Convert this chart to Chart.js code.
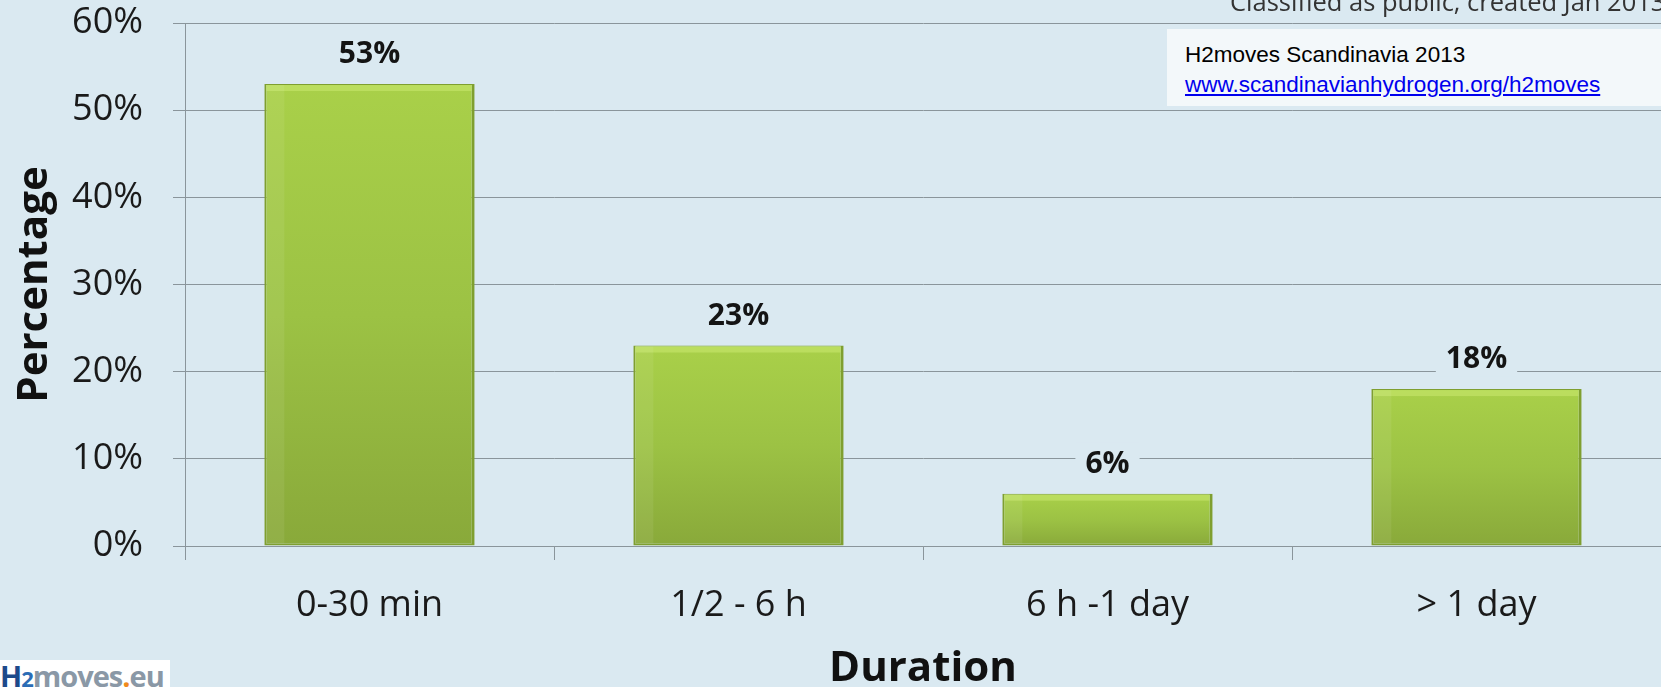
<!DOCTYPE html>
<html><head><meta charset="utf-8">
<script src="https://cdn.jsdelivr.net/npm/chart.js@4.4.1/dist/chart.umd.min.js"></script>
<style>
html,body{margin:0;padding:0;background:#dae9f1;overflow:hidden}
#wrap{position:relative;width:1661px;height:687px;background:#dae9f1}
canvas{position:absolute;left:0;top:0}
#classified{position:absolute;left:1230px;top:-12px;font:25.5px "Open Sans",sans-serif;line-height:26px;color:#333;white-space:nowrap;letter-spacing:0}
#note{position:absolute;left:1167px;top:29px;width:494px;height:77px;background:#f3f8fa;box-sizing:border-box;padding:11px 0 0 18px;font:22.5px "Liberation Sans",Arial,sans-serif;line-height:30px;color:#000}
#note a{color:#0000ee;text-decoration:underline}
#logo{position:absolute;left:0;top:660px;width:170px;height:27px;background:#fff;overflow:hidden;font:bold 29px "Open Sans",sans-serif;line-height:31px;color:#8a98a6;letter-spacing:-1px;white-space:nowrap}
#logo .h{color:#1d4a8a}
#logo .two{color:#2b6cb5;font-size:22px}
#logo .dot{color:#f08a1c}
</style></head>
<body><div id="wrap">
<canvas id="c" width="1661" height="687"></canvas>
<div id="classified">Classified as public, created Jan 2013</div>
<div id="note"><div>H2moves Scandinavia 2013</div><a>www.scandinavianhydrogen.org/h2moves</a></div>
<div id="logo"><span class="h">H</span><span class="two">2</span>moves<span class="dot">.</span>eu</div>
</div>
<script>
const categories = ['0-30 min', '1/2 - 6 h', '6 h -1 day', '> 1 day'];
const percentages = [53, 23, 6, 18];
const yTicks = [0, 10, 20, 30, 40, 50, 60];

const BG = '#dae9f1';
const GRID = '#8a959b';

const labelPlugin = {
  id: 'valueLabels',
  afterDatasetsDraw(chart) {
    const ctx = chart.ctx;
    const meta = chart.getDatasetMeta(0);
    ctx.save();
    ctx.font = 'bold 30px "Open Sans", sans-serif';
    ctx.textAlign = 'center';
    ctx.textBaseline = 'alphabetic';
    meta.data.forEach((el, i) => {
      const txt = percentages[i] + '%';
      const w = ctx.measureText(txt).width;
      const by = el.y - 21;
      ctx.fillStyle = BG;
      ctx.fillRect(el.x - w / 2 - 10, by - 30, w + 20, 38);
      ctx.fillStyle = '#141414';
      ctx.fillText(txt, el.x, by);
      const l = el.x - el.width / 2;
      ctx.fillStyle = 'rgba(205,236,115,0.5)';
      ctx.fillRect(l + 2, el.y + 1, el.width - 5, 6);
      ctx.fillStyle = 'rgba(255,255,255,0.07)';
      ctx.fillRect(l + 2, el.y + 1, 18, el.base - el.y - 3);
    });
    ctx.restore();
  }
};

new Chart(document.getElementById('c'), {
  type: 'bar',
  data: {
    labels: categories,
    datasets: [{
      data: percentages,
      backgroundColor(ctx) {
        const chart = ctx.chart;
        const ys = chart.scales && chart.scales.y;
        if (!ys || ctx.dataIndex === undefined) return '#9ec444';
        const top = ys.getPixelForValue(percentages[ctx.dataIndex]);
        const base = ys.getPixelForValue(0);
        if (!Number.isFinite(top) || !Number.isFinite(base) || top === base) return '#9ec444';
        const g = chart.ctx.createLinearGradient(0, top, 0, base);
        g.addColorStop(0, '#a9d049');
        g.addColorStop(0.5, '#9cc244');
        g.addColorStop(1, '#89a93a');
        return g;
      },
      borderColor: '#7f9f30',
      borderWidth: {left: 2, right: 3, top: 1, bottom: 2},
      borderSkipped: false,
      categoryPercentage: 1,
      barPercentage: 0.57
    }]
  },
  options: {
    responsive: false,
    animation: false,
    devicePixelRatio: 1,
    layout: {padding: {top: 23, right: 0, left: 0, bottom: 0}},
    plugins: {legend: {display: false}, tooltip: {enabled: false}},
    scales: {
      x: {
        offset: true,
        grid: {drawOnChartArea: false, drawTicks: true, tickLength: 14, color: GRID, offset: true},
        border: {display: true, color: GRID, width: 1},
        ticks: {color: '#1a1a1a', font: {family: '"Open Sans", sans-serif', size: 36}, padding: 24, maxRotation: 0, autoSkip: false},
        title: {display: true, text: 'Duration', color: '#111', font: {family: '"Open Sans", sans-serif', size: 42, weight: 'bold', lineHeight: 1}, padding: {top: 0, bottom: -3}},
        afterFit(s) { s.height = 141; s.paddingLeft = 0; s.paddingRight = 0; }
      },
      y: {
        min: 0, max: 60,
        afterBuildTicks(s) { s.ticks = yTicks.map(v => ({value: v})); },
        grid: {color: GRID, tickLength: 12, drawTicks: true},
        border: {display: true, color: GRID, width: 1},
        ticks: {color: '#1a1a1a', font: {family: '"Open Sans", sans-serif', size: 36, lineHeight: 1}, padding: 30, callback: v => v + '%'},
        title: {display: true, text: 'Percentage', color: '#111', font: {family: '"Open Sans", sans-serif', size: 42, weight: 'bold'}, padding: {top: 10, bottom: 0}},
        afterFit(s) { s.width = 185; s.paddingTop = 0; s.paddingBottom = 0; }
      }
    }
  },
  plugins: [labelPlugin]
});
</script>
</body></html>
